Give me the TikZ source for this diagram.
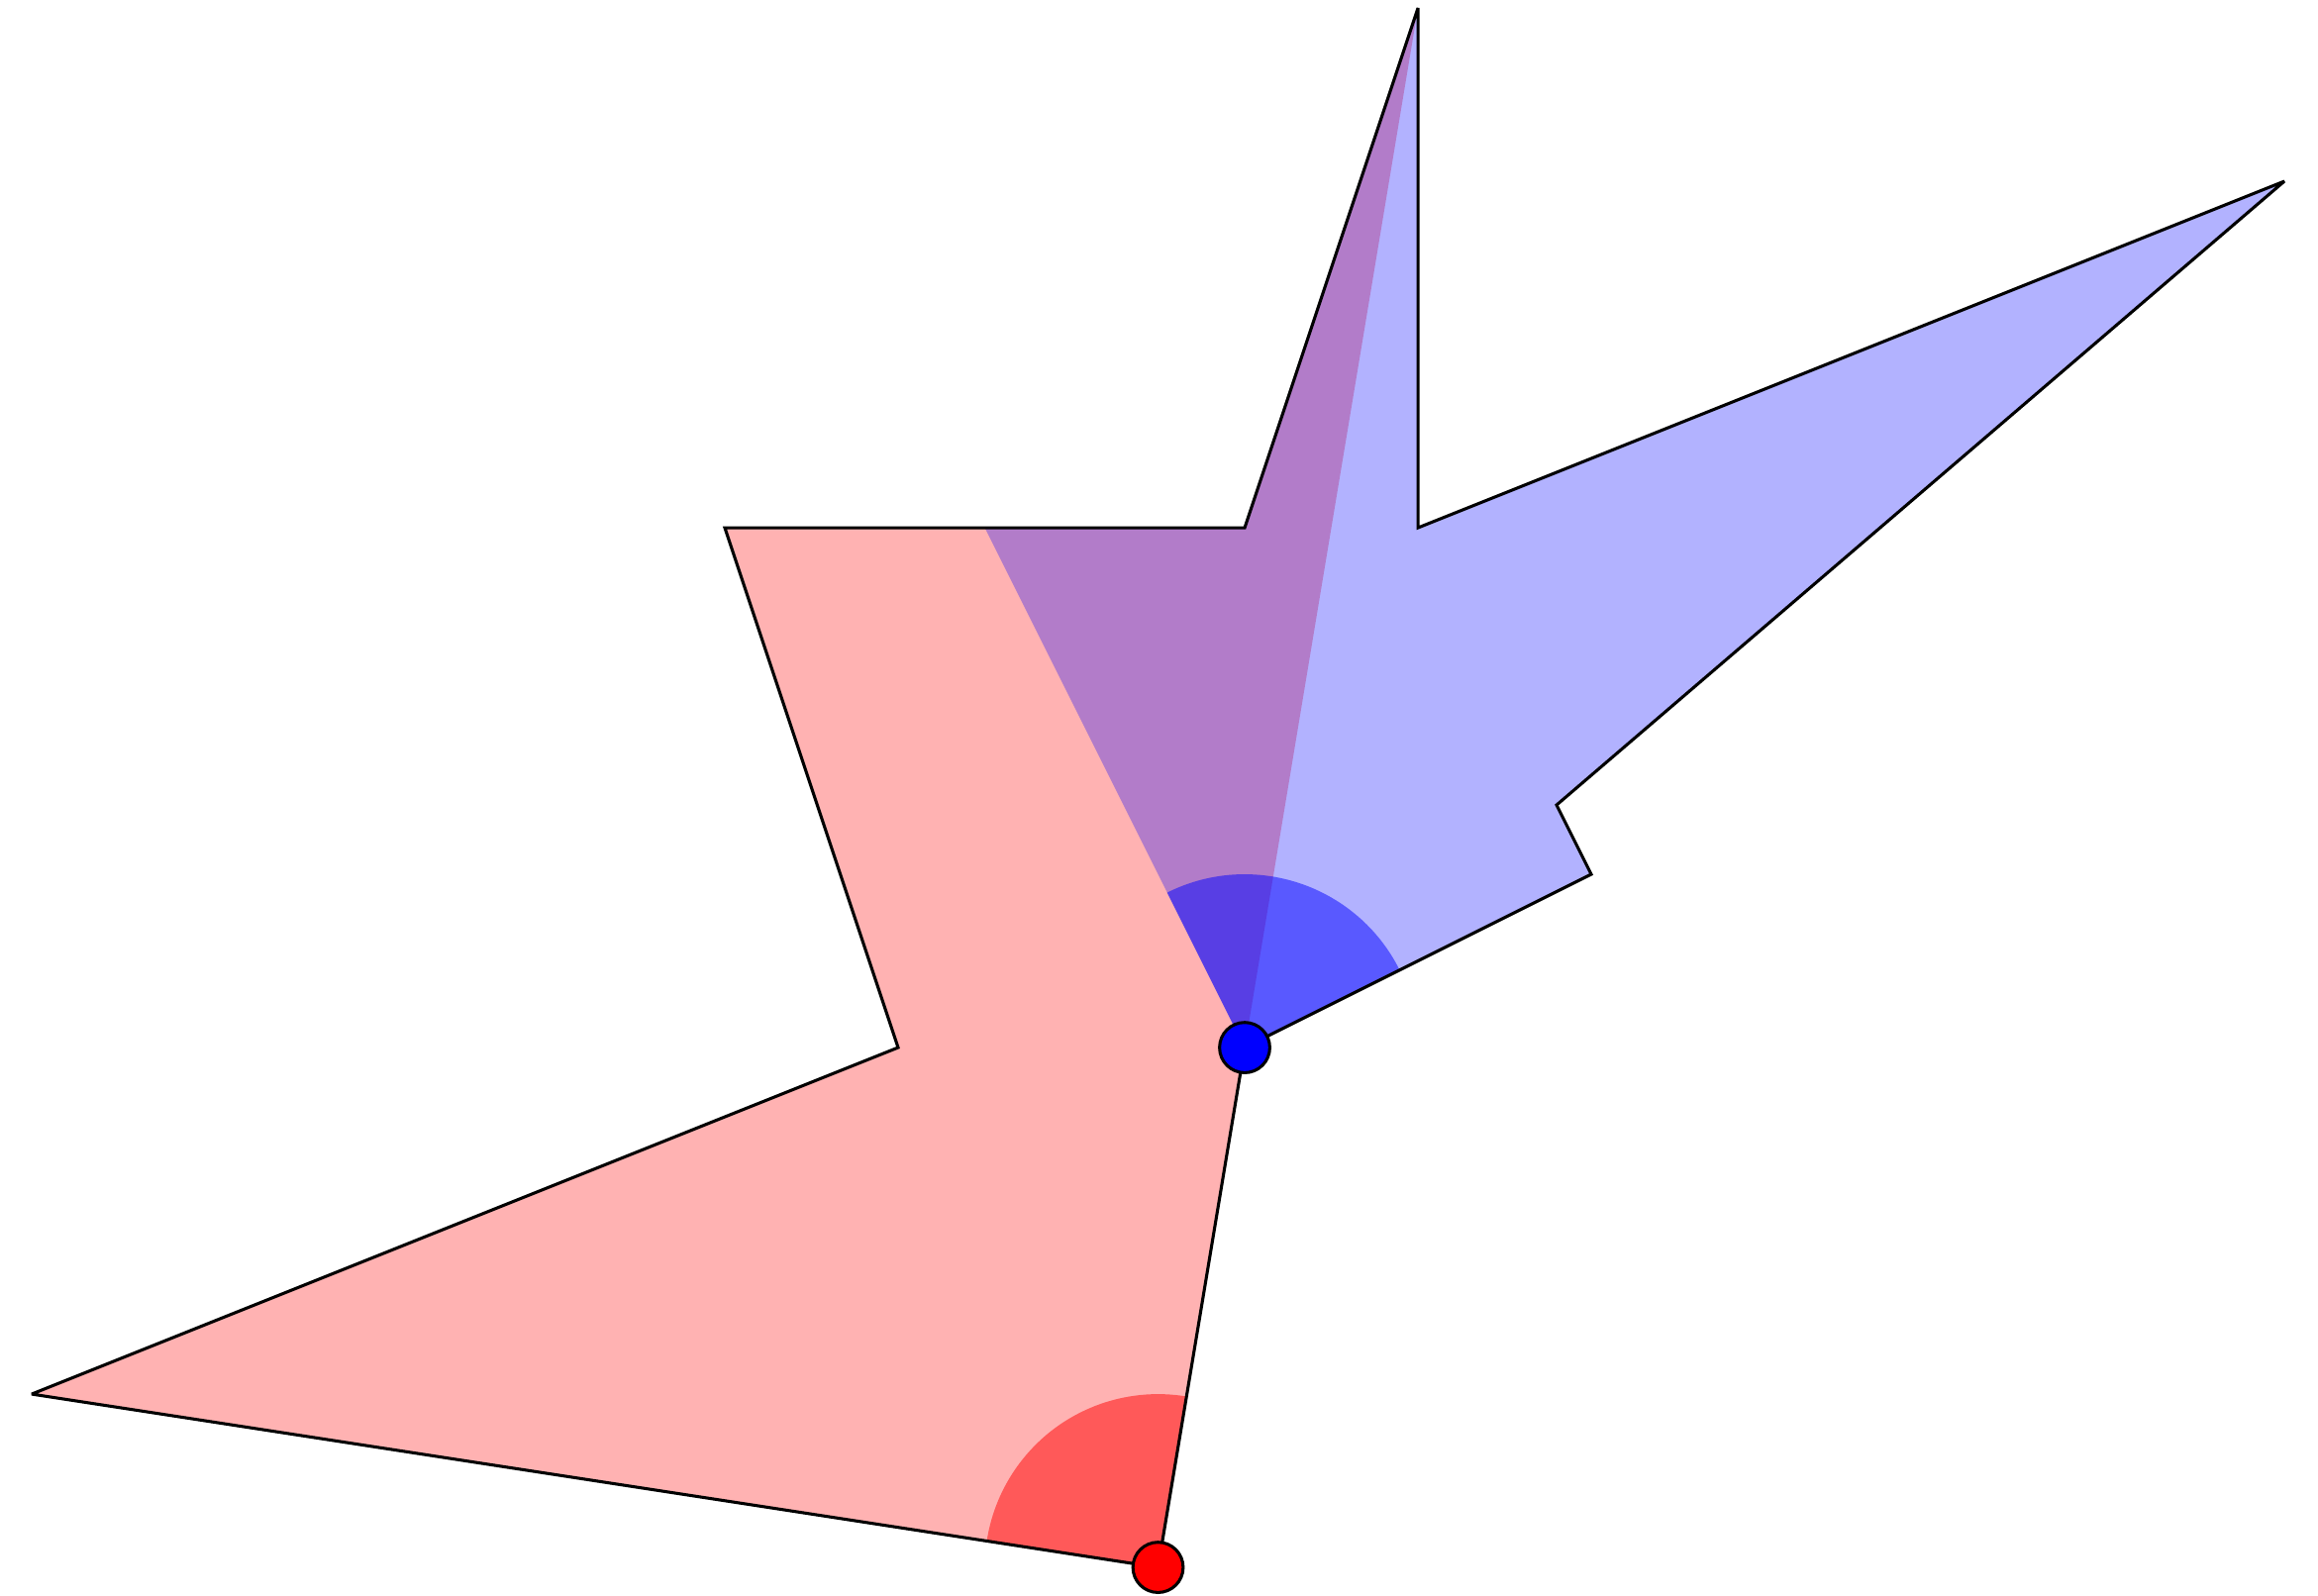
\documentclass[tikz,border=0pt]{standalone}
\usetikzlibrary{calc}

\begin{document}
\begin{tikzpicture}[line width=0.5pt, line join=miter, miter limit=3, redpart/.style={fill=red, fill opacity=0.3}, bluepart/.style={fill=blue, fill opacity=0.3}, wedge/.style={fill opacity=0.5}, dot/.style={circle, draw=black, inner sep=0pt, minimum size=2.9mm}]
\useasboundingbox (-7.183,-3.165) rectangle (6.194,6.046);
\coordinate (pivot) at (0,0);
\coordinate (base) at (-0.5,-3);
% the two pieces
\fill[redpart] (base) -- (-7,-2) -- (-2,0) -- (-3,3) -- (0,3) -- (1,6) -- cycle;
\fill[bluepart] (pivot) -- (-1.5,3) -- (0,3) -- (1,6) -- (1,3) -- (6,5) -- (1.8,1.4) -- (2,1) -- cycle;
% angles at the two marked vertices
\fill[red, wedge] (base) -- ++(171.25:1) arc[start angle=171.25, end angle=80.54, radius=1] -- cycle;
\fill[blue, wedge] (pivot) -- ++(26.57:1) arc[start angle=26.57, end angle=116.57, radius=1] -- cycle;
% outline of the union
\draw (1,6) -- (1,3) -- (6,5) -- (1.8,1.4) -- (2,1) -- (pivot) -- (base) -- (-7,-2) -- (-2,0) -- (-3,3) -- (0,3) -- cycle;
\node[dot, fill=red] (rdot) at (base) {};
\node[dot, fill=blue] (bdot) at (pivot) {};
\end{tikzpicture}
\end{document}
